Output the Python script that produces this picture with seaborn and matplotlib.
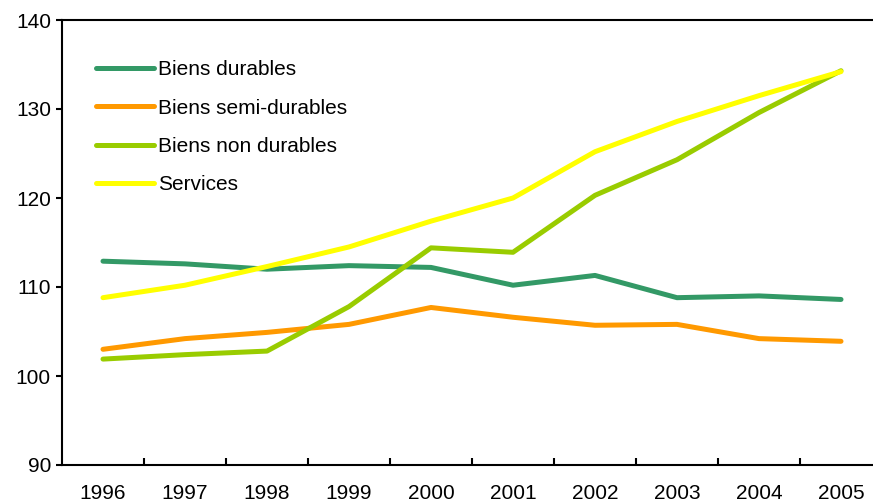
import matplotlib
matplotlib.use("Agg")
import matplotlib.pyplot as plt
import seaborn as sns
import pandas as pd
import numpy as np

years = [1996, 1997, 1998, 1999, 2000, 2001, 2002, 2003, 2004, 2005]
biens_durables = [112.9, 112.6, 112.0, 112.4, 112.2, 110.2, 111.3, 108.8, 109.0, 108.6]
biens_semi_durables = [103.0, 104.2, 104.9, 105.8, 107.7, 106.6, 105.7, 105.8, 104.2, 103.9]
biens_non_durables = [101.9, 102.4, 102.8, 107.8, 114.4, 113.9, 120.3, 124.3, 129.6, 134.3]
services = [108.8, 110.2, 112.3, 114.5, 117.4, 120.0, 125.2, 128.6, 131.5, 134.2]

series_names = ["Biens durables", "Biens semi-durables", "Biens non durables", "Services"]
colors = ["#339966", "#FF9900", "#99CC00", "#FFFF00"]

df = pd.concat([
    pd.DataFrame({"year": years, "value": vals, "serie": name})
    for name, vals in zip(series_names, [biens_durables, biens_semi_durables, biens_non_durables, services])
])

sns.set_theme(style="white")
plt.rcParams['font.family'] = ['Liberation Sans', 'DejaVu Sans']
plt.rcParams['text.color'] = 'black'

FS = 15

fig = plt.figure(figsize=(8.73, 5.04), dpi=100)
ax = fig.add_axes([62/873, 1 - 465/504, (882 - 62)/873, (465 - 20)/504])

sns.lineplot(data=df, x="year", y="value", hue="serie", hue_order=series_names,
             palette=colors, linewidth=3.6, ax=ax, legend=True,
             solid_capstyle="round", solid_joinstyle="round")

ax.set_xlim(1995.5, 2005.5)
ax.set_ylim(90, 140)
ax.set_yticks([90, 100, 110, 120, 130, 140])
ax.set_xticks(years)
ax.set_xticks([y + 0.5 for y in years[:-1]], minor=True)
ax.tick_params(axis='x', which='major', length=0, pad=14, labelsize=FS, colors='black')
ax.tick_params(axis='x', which='minor', length=5, width=1.5, direction='in', bottom=True, color='black')
ax.tick_params(axis='y', which='major', length=4, width=1.5, direction='out', left=True, pad=4, labelsize=FS, colors='black')
ax.set_xlabel("")
ax.set_ylabel("")
for s in ax.spines.values():
    s.set_visible(True)
    s.set_color('black')
    s.set_linewidth(1.5)
ax.grid(False)

leg = ax.legend(loc='upper left', bbox_to_anchor=(0.041, 0.909), frameon=False,
                fontsize=FS, handlelength=2.8, handletextpad=0.2, labelspacing=0.92,
                borderaxespad=0, borderpad=0, labelcolor='black')
for line in leg.get_lines():
    line.set_linewidth(3.6)
    line.set_solid_capstyle("round")

fig.savefig("out.png", dpi=100)
